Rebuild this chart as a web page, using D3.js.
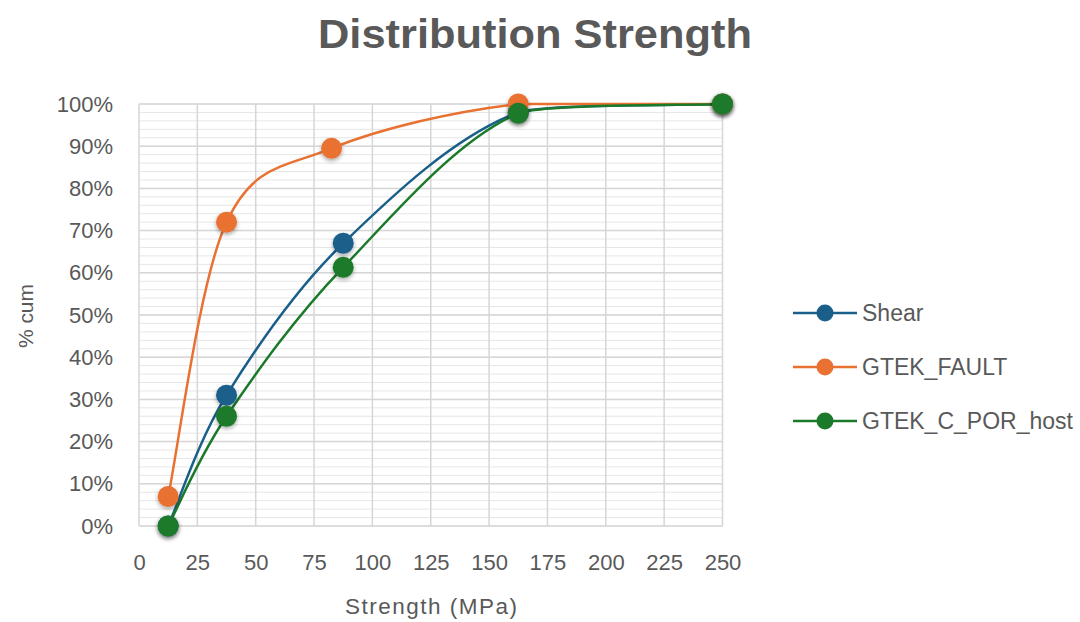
<!DOCTYPE html>
<html>
<head>
<meta charset="utf-8">
<script src="https://cdn.jsdelivr.net/npm/d3@7/dist/d3.min.js"></script>
<style>
  html, body { margin: 0; padding: 0; background: #ffffff; }
  svg { display: block; }
  text { font-family: "Liberation Sans", Arial, sans-serif; fill: #595959; }
</style>
</head>
<body>
<svg id="chart" width="1080" height="622"></svg>
<script>
// ---- data ----
const seriesNames = ["Shear", "GTEK_FAULT", "GTEK_C_POR_host"];
const seriesColors = ["#1a5f8a", "#e97132", "#1b7a2a"];
const shearX = [12.5, 37.5, 87.5, 162.5, 250];
const shearY = [0.00, 0.31, 0.67, 0.98, 1.00];
const faultX = [12.5, 37.5, 82.5, 162.5, 250];
const faultY = [0.07, 0.72, 0.895, 1.00, 1.00];
const hostX = [12.5, 37.5, 87.5, 162.5, 250];
const hostY = [0.00, 0.26, 0.613, 0.978, 1.00];
const xTicks = [0, 25, 50, 75, 100, 125, 150, 175, 200, 225, 250];
const yTicks = [0, 0.1, 0.2, 0.3, 0.4, 0.5, 0.6, 0.7, 0.8, 0.9, 1.0];
const yMinorTicks = d3.range(0, 1.0001, 0.02);
const titleText = "Distribution Strength";
const xTitle = "Strength (MPa)";
const yTitle = "% cum";

const series = [
  {name: seriesNames[0], color: seriesColors[0], pts: shearX.map((x, i) => ({x, y: shearY[i]}))},
  {name: seriesNames[1], color: seriesColors[1], pts: faultX.map((x, i) => ({x, y: faultY[i]}))},
  {name: seriesNames[2], color: seriesColors[2], pts: hostX.map((x, i) => ({x, y: hostY[i]}))}
];

const svg = d3.select("#chart");
const pLeft = 139, pRight = 722.5, pTop = 104, pBottom = 526;
const x = d3.scaleLinear().domain([0, 250]).range([pLeft, pRight]);
const y = d3.scaleLinear().domain([0, 1]).range([pBottom, pTop]);

// shadow filter
const defs = svg.append("defs");
const f = defs.append("filter").attr("id", "shadow").attr("x", "-50%").attr("y", "-50%").attr("width", "200%").attr("height", "200%");
f.append("feDropShadow").attr("dx", 0).attr("dy", 2).attr("stdDeviation", 2).attr("flood-color", "#000").attr("flood-opacity", 0.35);

// minor horizontal gridlines
svg.append("g").selectAll("line").data(yMinorTicks).join("line")
  .attr("x1", pLeft).attr("x2", pRight)
  .attr("y1", d => y(d)).attr("y2", d => y(d))
  .attr("stroke", "#e6e6e6").attr("stroke-width", 1);

// major gridlines
svg.append("g").selectAll("line").data(yTicks).join("line")
  .attr("x1", pLeft).attr("x2", pRight)
  .attr("y1", d => y(d)).attr("y2", d => y(d))
  .attr("stroke", "#d6d6d6").attr("stroke-width", 1.5);
svg.append("g").selectAll("line").data(xTicks).join("line")
  .attr("x1", d => x(d)).attr("x2", d => x(d))
  .attr("y1", pTop).attr("y2", pBottom)
  .attr("stroke", "#d6d6d6").attr("stroke-width", 1.5);

// axes (labels only)
const xAxis = d3.axisBottom(x).tickValues(xTicks).tickSize(0).tickPadding(28);
const gx = svg.append("g").attr("transform", `translate(0,${pBottom})`).call(xAxis);
gx.select(".domain").remove();
gx.selectAll("text").style("font-size", "22px").attr("fill", "#595959");

const yAxis = d3.axisLeft(y).tickValues(yTicks).tickSize(0).tickPadding(26).tickFormat(d3.format(".0%"));
const gy = svg.append("g").attr("transform", `translate(${pLeft},0)`).call(yAxis);
gy.select(".domain").remove();
gy.selectAll("text").style("font-size", "22px").attr("fill", "#595959");

// smoothed line (Excel-like Bezier; tangent scaled down to avoid overshoot)
function ctrl(p, tx, ty, lo, hi) {
  let s = 1;
  const ny = p[1] + ty;
  if (ny < lo && ty !== 0) s = Math.min(s, (lo - p[1]) / ty);
  if (ny > hi && ty !== 0) s = Math.min(s, (hi - p[1]) / ty);
  s = Math.max(0, s);
  return [p[0] + tx * s, p[1] + ty * s];
}
function smoothPath(pts) {
  const p = pts.map(d => [x(d.x), y(d.y)]);
  const path = d3.path();
  path.moveTo(p[0][0], p[0][1]);
  for (let i = 0; i < p.length - 1; i++) {
    const p0 = p[Math.max(i - 1, 0)], p1 = p[i], p2 = p[i + 1], p3 = p[Math.min(i + 2, p.length - 1)];
    const lo = Math.min(p1[1], p2[1]), hi = Math.max(p1[1], p2[1]);
    const c1 = ctrl(p1, (p2[0] - p0[0]) / 6, (p2[1] - p0[1]) / 6, lo, hi);
    const c2 = ctrl(p2, -(p3[0] - p1[0]) / 6, -(p3[1] - p1[1]) / 6, lo, hi);
    path.bezierCurveTo(c1[0], c1[1], c2[0], c2[1], p2[0], p2[1]);
  }
  return path.toString();
}
svg.append("g").selectAll("path").data(series).join("path")
  .attr("d", d => smoothPath(d.pts))
  .attr("fill", "none").attr("stroke", d => d.color).attr("stroke-width", 2.5);

// markers
series.forEach(s => {
  svg.append("g").selectAll("circle").data(s.pts).join("circle")
    .attr("cx", d => x(d.x)).attr("cy", d => y(d.y)).attr("r", 10.5)
    .attr("fill", s.color).attr("filter", "url(#shadow)");
});

// title
svg.append("text").attr("x", 535).attr("y", 48).attr("text-anchor", "middle")
  .attr("textLength", 434).attr("lengthAdjust", "spacingAndGlyphs")
  .style("font-size", "40px").style("font-weight", "bold").text(titleText);

// axis titles
svg.append("text").attr("x", 431).attr("y", 614).attr("text-anchor", "middle")
  .attr("textLength", 172).attr("lengthAdjust", "spacing")
  .style("font-size", "22.5px").text(xTitle);
svg.append("text").attr("transform", `translate(33,316) rotate(-90)`).attr("text-anchor", "middle")
  .attr("textLength", 64).attr("lengthAdjust", "spacing")
  .style("font-size", "21px").text(yTitle);

// legend
const lg = svg.append("g").selectAll("g").data(series).join("g")
  .attr("transform", (d, i) => `translate(0,${313 + i * 54})`);
lg.append("line").attr("x1", 793).attr("x2", 857).attr("y1", 0).attr("y2", 0)
  .attr("stroke", d => d.color).attr("stroke-width", 2.5);
lg.append("circle").attr("cx", 825).attr("cy", 0).attr("r", 8.5).attr("fill", d => d.color);
lg.append("text").attr("x", 862).attr("y", 8).style("font-size", "23px").text(d => d.name);
</script>
</body>
</html>
